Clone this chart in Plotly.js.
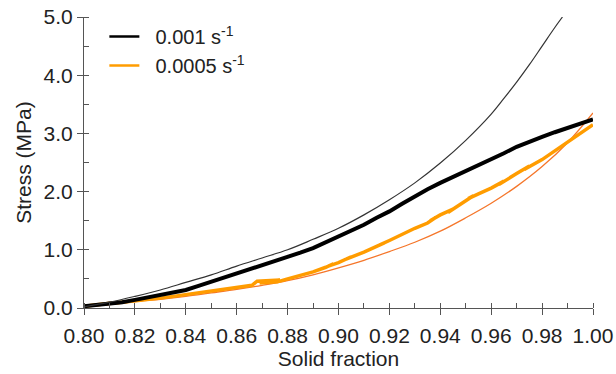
<!DOCTYPE html>
<html>
<head>
<meta charset="utf-8">
<script src="https://cdn.plot.ly/plotly-3.0.1.min.js"></script>
<style>html,body{margin:0;padding:0;background:#fff}#chart{width:616px;height:374px}</style>
</head>
<body>
<div id="chart"></div>
<script>
// Model curve, strain rate 0.001 s^-1 (thin black)
const modelFastX = [0.80,0.81,0.82,0.83,0.84,0.85,0.86,0.87,0.88,0.89,0.90,0.91,0.92,0.93,0.94,0.95,0.96,0.965,0.97,0.975,0.98,0.985,0.988];
const modelFastY = [0.02,0.10,0.20,0.31,0.44,0.57,0.72,0.86,1.00,1.18,1.37,1.60,1.86,2.15,2.49,2.88,3.33,3.60,3.88,4.18,4.50,4.82,5.00];

// Measured data, 0.001 s^-1 (thick black)
const dataFastX = [0.800,0.805,0.810,0.815,0.820,0.825,0.830,0.835,0.840,0.845,0.850,0.855,0.860,0.865,0.870,0.875,0.880,0.885,0.890,0.895,0.900,0.905,0.910,0.915,0.920,0.925,0.930,0.935,0.940,0.945,0.950,0.955,0.960,0.965,0.970,0.975,0.980,0.985,0.990,0.995,1.000];
const dataFastY = [0.03,0.05,0.07,0.10,0.14,0.18,0.22,0.26,0.31,0.38,0.45,0.52,0.60,0.67,0.74,0.81,0.88,0.95,1.03,1.13,1.23,1.33,1.43,1.55,1.66,1.79,1.92,2.04,2.15,2.25,2.35,2.45,2.55,2.66,2.77,2.86,2.94,3.02,3.09,3.16,3.24];

// Model curve, strain rate 0.0005 s^-1 (thin orange)
const modelSlowX = [0.80,0.81,0.82,0.83,0.84,0.85,0.86,0.87,0.88,0.89,0.90,0.91,0.92,0.93,0.94,0.95,0.96,0.97,0.98,0.99,1.00];
const modelSlowY = [0.02,0.06,0.11,0.15,0.20,0.26,0.32,0.39,0.47,0.57,0.69,0.82,0.97,1.13,1.32,1.55,1.80,2.09,2.43,2.84,3.35];

// Measured data, 0.0005 s^-1 (thick orange, jagged)
const dataSlowX = [0.800,0.805,0.810,0.815,0.820,0.825,0.830,0.835,0.840,0.845,0.850,0.855,0.860,0.866,0.868,0.877,0.869,0.876,0.880,0.885,0.890,0.895,0.898,0.896,0.900,0.905,0.903,0.910,0.915,0.918,0.916,0.920,0.925,0.923,0.930,0.935,0.938,0.936,0.940,0.945,0.943,0.950,0.953,0.951,0.955,0.960,0.965,0.963,0.970,0.975,0.973,0.980,0.985,0.990,0.995,1.000];
const dataSlowY = [0.03,0.06,0.08,0.10,0.12,0.14,0.17,0.20,0.23,0.26,0.30,0.33,0.36,0.39,0.46,0.48,0.43,0.45,0.50,0.56,0.62,0.70,0.76,0.72,0.78,0.88,0.84,0.96,1.05,1.12,1.08,1.16,1.27,1.22,1.37,1.46,1.55,1.50,1.60,1.70,1.64,1.84,1.93,1.88,1.96,2.06,2.18,2.12,2.31,2.44,2.38,2.55,2.70,2.84,2.99,3.15];

const legendNames = ['&nbsp;&nbsp;0.001 s<sup>-1</sup>', '&nbsp;&nbsp;0.0005 s<sup>-1</sup>'];
const xTicks = [0.80,0.82,0.84,0.86,0.88,0.90,0.92,0.94,0.96,0.98,1.00];
const yTicks = [0,1,2,3,4,5];

const BLACK = '#000000';
const ORANGE = '#ff9c00';
const ORANGE_THIN = '#f5762a';
const FONT = 'Liberation Sans, Arial, sans-serif';

const traces = [
  {x: modelSlowX, y: modelSlowY, mode: 'lines', line: {color: ORANGE_THIN, width: 1.3, shape: 'spline'}, showlegend: false, hoverinfo: 'skip'},
  {x: dataSlowX, y: dataSlowY, mode: 'lines', line: {color: ORANGE, width: 3.5}, showlegend: false},
  {x: dataFastX, y: dataFastY, mode: 'lines', line: {color: BLACK, width: 4}, showlegend: false},
  {x: modelFastX, y: modelFastY, mode: 'lines', line: {color: '#333333', width: 1.2, shape: 'spline'}, showlegend: false, hoverinfo: 'skip'},
  {x: [null], y: [null], mode: 'lines', name: legendNames[0], line: {color: BLACK, width: 2.5}},
  {x: [null], y: [null], mode: 'lines', name: legendNames[1], line: {color: ORANGE, width: 2.5}},
  {x: [0.9], y: [1], xaxis: 'x2', yaxis: 'y2', mode: 'markers', marker: {opacity: 0}, showlegend: false, hoverinfo: 'skip'}
];

const axisCommon = {
  showgrid: false, zeroline: false, showline: true, linecolor: '#555', linewidth: 1,
  tickcolor: '#555', tickwidth: 1, ticks: 'outside', ticklen: 6,
  tickfont: {family: FONT, size: 21, color: '#222'}
};

const layout = {
  width: 616, height: 374,
  margin: {l: 84, r: 23, t: 17, b: 66},
  paper_bgcolor: '#fff', plot_bgcolor: '#fff',
  font: {family: FONT, size: 21, color: '#222'},
  showlegend: true,
  legend: {x: 0.04, y: 1.0, xanchor: 'left', yanchor: 'top', bgcolor: 'rgba(0,0,0,0)',
           font: {family: FONT, size: 20, color: '#222'}, tracegroupgap: 0},
  xaxis: Object.assign({}, axisCommon, {
    range: [0.8, 1.0], tickvals: xTicks, ticktext: xTicks.map(v => v.toFixed(2)),
    ticklabelstandoff: 3,
    minor: {dtick: 0.01, ticks: 'inside', ticklen: 5, tickcolor: '#555'},
    title: {text: 'Solid fraction', font: {family: FONT, size: 21, color: '#222'}, standoff: 2}
  }),
  yaxis: Object.assign({}, axisCommon, {
    range: [0, 5], tickvals: yTicks, ticktext: yTicks.map(v => v.toFixed(1)),
    minor: {dtick: 0.5, ticks: 'inside', ticklen: 5, tickcolor: '#555'},
    title: {text: 'Stress (MPa)', font: {family: FONT, size: 21, color: '#222'}, standoff: 6}
  }),
  xaxis2: {overlaying: 'x', anchor: 'y2', range: [0.8, 1.0], tickvals: xTicks, ticks: 'inside', ticklen: 4,
           tickcolor: '#555', showticklabels: false, showgrid: false, zeroline: false, showline: false},
  yaxis2: {overlaying: 'y', anchor: 'x2', side: 'left', range: [0, 5], tickvals: yTicks, ticks: 'inside', ticklen: 4,
           tickcolor: '#555', showticklabels: false, showgrid: false, zeroline: false, showline: false}
};

Plotly.newPlot('chart', traces, layout, {displayModeBar: false, staticPlot: true});
</script>
</body>
</html>
